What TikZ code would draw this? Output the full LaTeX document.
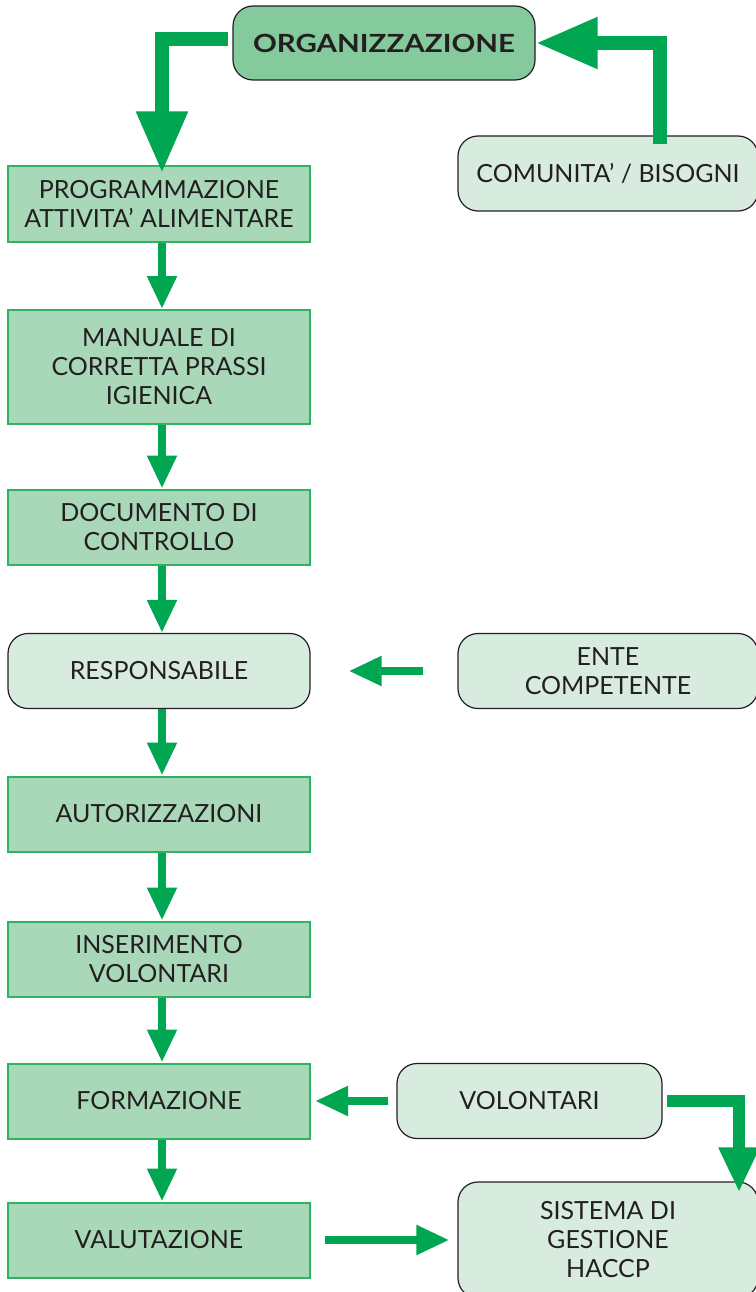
\documentclass[tikz,border=0pt]{standalone}
\usepackage{fontspec}
\setmainfont{Lato}
\usetikzlibrary{arrows.meta}
\definecolor{arrowgreen}{HTML}{00A651}
\definecolor{inkdark}{HTML}{231F20}
\definecolor{orgfill}{HTML}{84CA9C}
\definecolor{stepfill}{HTML}{A9D8B9}
\definecolor{stepline}{HTML}{2EB461}
\definecolor{softfill}{HTML}{D7ECDE}

\begin{document}
\begin{tikzpicture}[x=1pt, y=-1pt,
    every node/.style={font=\fontsize{25}{29}\selectfont, text=inkdark, align=center, inner sep=0pt},
    stepbox/.style={draw=stepline, line width=2pt, fill=stepfill, minimum width=302pt, minimum height=75pt},
    softbox/.style={draw=inkdark, line width=1.2pt, fill=softfill, rounded corners=20pt, minimum width=300pt, minimum height=75pt},
    headbox/.style={softbox, fill=orgfill, minimum width=302pt, minimum height=74pt},
    flow/.style={arrowgreen, line width=8pt, -{Triangle[width=28pt,length=33pt]}},
    bigflow/.style={arrowgreen, line width=14pt, -{Triangle[width=48pt,length=62pt]}}]
    \useasboundingbox (0,0) rectangle (755,1292);
    % top
    \node[headbox] (org) at (384,43) {\scalebox{1.18}[1]{\textbf{ORGANIZZAZIONE}}};
    \node[softbox] (com) at (608,173.5) {COMUNITA’ / BISOGNI};
    % main column
    \node[stepbox] (prog) at (159,204) {PROGRAMMAZIONE\\ATTIVITA’ ALIMENTARE};
    \node[stepbox, minimum height=114pt] (man) at (159,367) {MANUALE DI\\CORRETTA PRASSI\\IGIENICA};
    \node[stepbox] (doc) at (159,527) {DOCUMENTO DI\\CONTROLLO};
    \node[softbox, minimum width=302pt] (resp) at (159,671) {RESPONSABILE};
    \node[stepbox] (aut) at (159,814) {AUTORIZZAZIONI};
    \node[stepbox] (ins) at (159,959) {INSERIMENTO\\VOLONTARI};
    \node[stepbox] (form) at (159,1101) {FORMAZIONE};
    \node[stepbox] (val) at (159,1240) {VALUTAZIONE};
    % right side
    \node[softbox] (ente) at (608,671) {ENTE\\COMPETENTE};
    \node[softbox, minimum width=265pt] (vol) at (529.5,1101) {VOLONTARI};
    \node[softbox, minimum height=116pt] (sis) at (608,1240) {SISTEMA DI\\GESTIONE\\HACCP};

    \draw[bigflow] ([xshift=-4,yshift=4]org.west) -| ([xshift=3,yshift=-8]prog.north);
    \draw[bigflow] ([xshift=52,yshift=-9]com.north) |- (org.east);
    \foreach \a/\b in {prog/man, man/doc, doc/resp, resp/aut, aut/ins, ins/form, form/val}
        \draw[flow] ([xshift=3]\a.south) -- ([xshift=3]\b.north);
    \draw[flow] ([xshift=-34]ente.west) -- ([xshift=38]resp.east);
    \draw[flow] ([xshift=-8]vol.west) -- ([xshift=4]form.east);
    \draw[flow] ([xshift=14]val.east) -- ([xshift=-8]sis.west);
    \draw[arrowgreen, line width=12pt, -{Triangle[width=38pt,length=45pt]}] ([xshift=4]vol.east) -| ([xshift=131,yshift=-11]sis.north);
\end{tikzpicture}
\end{document}
